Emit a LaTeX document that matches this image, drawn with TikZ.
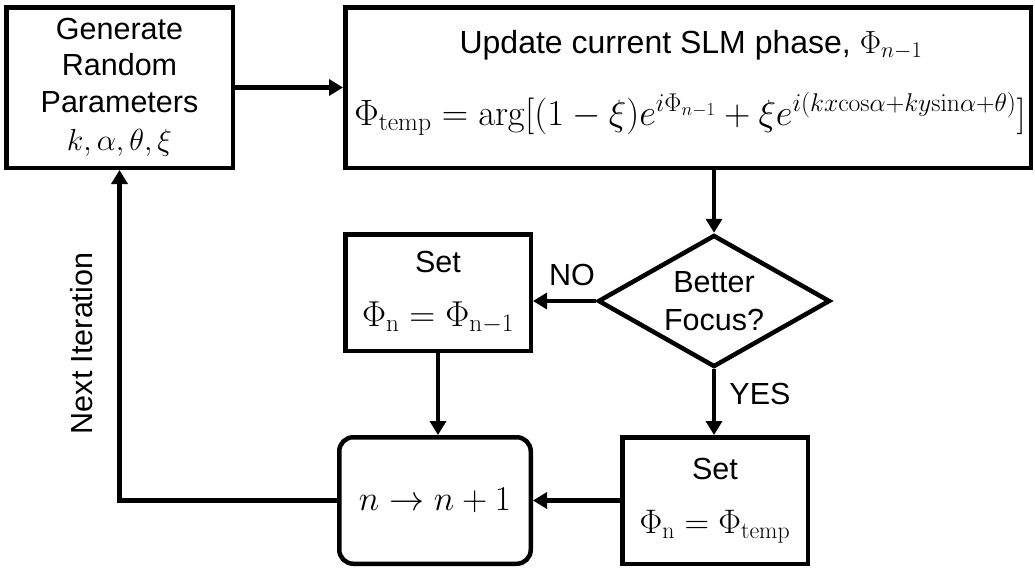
\RequirePackage{fix-cm}
\documentclass[tikz,border=0pt]{standalone}
\usepackage[no-math]{fontspec}
\setmainfont{Liberation Sans}
\usetikzlibrary{arrows.meta,shapes.geometric}
\begin{document}
\begin{tikzpicture}[x=1pt,y=-1pt,
  every node/.style={font=\fontsize{30.5}{36.5}\selectfont},
  box/.style={draw,line width=4.5pt,align=center,inner sep=0pt},
  conn/.style={line width=4.5pt,-{Triangle[length=14pt,width=16pt]}},
  lbl/.style={inner sep=0pt}]
\useasboundingbox (0,0) rectangle (1035,571);
\node[box,minimum width=226.5pt,minimum height=160.5pt] (gen) at (119.5,87.5)
  {Generate\\Random\\Parameters\\[2pt]$k,\alpha,\theta,\xi$};
\node[box,minimum width=685.5pt,minimum height=160.5pt] (upd) at (688,87.5) {};
\node[lbl,font=\fontsize{32}{38}\selectfont] (title) at (691,53) [anchor=base] {Update current SLM phase, $\Phi_{n-1}$};
\node[lbl,font=\fontsize{36.6}{40}\selectfont] (form) at (690,125) [anchor=base]
  {$\Phi_{\mathrm{temp}}=\arg[(1-\xi)e^{i\Phi_{n-1}}+\xi e^{i(kx\mathrm{cos}\alpha+ky\mathrm{sin}\alpha+\theta)}]$};
\node[draw,diamond,line width=4.5pt,minimum width=232pt,minimum height=132pt,inner sep=0pt,aspect=1.76,align=center,font=\fontsize{30.5}{38}\selectfont] (dec) at (714,301)
  {Better\\Focus?};
\node[box,minimum width=185.5pt,minimum height=116.5pt] (setl) at (438,292.5)
  {Set\\[17pt]{\fontsize{36}{36}\selectfont$\Phi_{\mathrm{n}}=\Phi_{\mathrm{n-1}}$}};
\node[box,rounded corners=14pt,minimum width=191.5pt,minimum height=126.5pt] (inc) at (435,500.5)
  {\fontsize{35}{36}\selectfont$n\rightarrow n+1$};
\node[box,minimum width=185.5pt,minimum height=126.5pt] (setr) at (715,500.5)
  {Set\\[17pt]{\fontsize{34}{36}\selectfont$\Phi_{\mathrm{n}}=\Phi_{\mathrm{temp}}$}};
\node[lbl] (no) at (572,275) {NO};
\node[lbl] (yes) at (760,394) {YES};
\node[lbl,rotate=90] (next) at (82,343.5) {Next Iteration};
\draw[conn] (gen.east) -- (gen.east -| upd.west);
\draw[conn] (dec.north |- upd.south) -- (dec.north);
\draw[conn] (dec.west) -- (dec.west -| setl.east);
\draw[conn] (dec.south) -- (dec.south |- setr.north);
\draw[conn] (setl.south) -- (setl.south |- inc.north);
\draw[conn] (setr.west) -- (setr.west -| inc.east);
\draw[conn] (inc.west) -| (gen.south);
\end{tikzpicture}
\end{document}
